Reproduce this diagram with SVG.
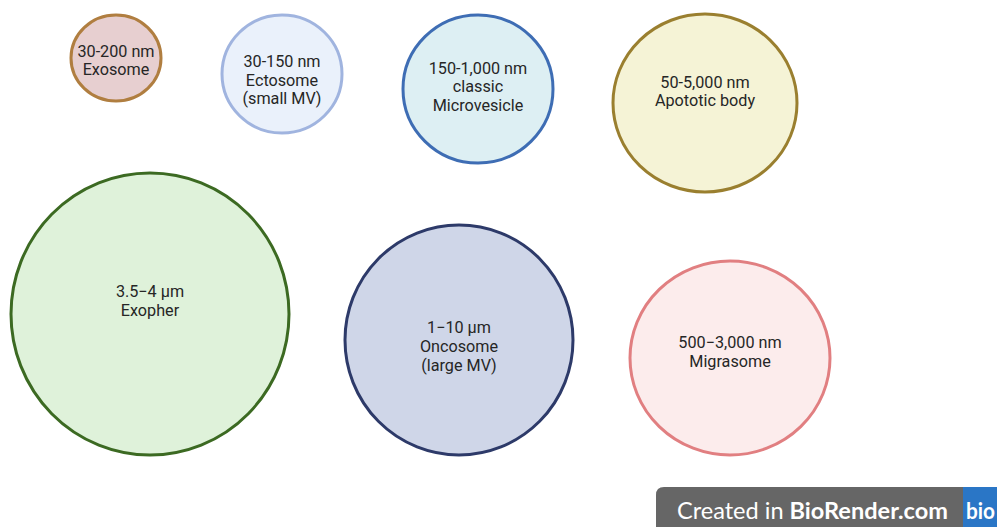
<svg xmlns="http://www.w3.org/2000/svg" width="997" height="527" viewBox="0 0 997 527">
<style>
.lbl{font-family:Roboto,"Liberation Sans",sans-serif;font-size:16.2px;fill:#262626;text-anchor:middle}
.c{stroke-width:3}
.badge{font-family:Lato,"Open Sans","Liberation Sans",sans-serif;font-size:23px;fill:#ffffff}
</style>
<rect width="997" height="527" fill="#ffffff"/>
<g id="exosome">
<ellipse class="c" cx="116" cy="58" rx="45" ry="43" fill="#e7cfd0" stroke="#b07e40"/>
<text class="lbl" x="116" y="57">30-200 nm</text>
<text class="lbl" x="116" y="75">Exosome</text>
</g>
<g id="ectosome">
<ellipse class="c" cx="282" cy="74" rx="60" ry="59" fill="#eaf1fb" stroke="#a0b4df"/>
<text class="lbl" x="282" y="67">30-150 nm</text>
<text class="lbl" x="282" y="86">Ectosome</text>
<text class="lbl" x="282" y="104">(small MV)</text>
</g>
<g id="microvesicle">
<ellipse class="c" cx="478" cy="89" rx="75" ry="74" fill="#ddeff3" stroke="#3e6db4"/>
<text class="lbl" x="478" y="74">150-1,000 nm</text>
<text class="lbl" x="478" y="92">classic</text>
<text class="lbl" x="478" y="111">Microvesicle</text>
</g>
<g id="apoptotic-body">
<ellipse class="c" cx="705" cy="103" rx="92" ry="89" fill="#f5f3d6" stroke="#9a7f2f"/>
<text class="lbl" x="705" y="88">50-5,000 nm</text>
<text class="lbl" x="705" y="106">Apototic body</text>
</g>
<g id="exopher">
<ellipse class="c" cx="150" cy="314" rx="139" ry="141" fill="#dff2da" stroke="#3c6a22"/>
<text class="lbl" x="150" y="297">3.5−4 μm</text>
<text class="lbl" x="150" y="316">Exopher</text>
</g>
<g id="oncosome">
<ellipse class="c" cx="459" cy="340" rx="114" ry="115" fill="#cfd6e8" stroke="#2d3a69"/>
<text class="lbl" x="459" y="333">1−10 μm</text>
<text class="lbl" x="459" y="352">Oncosome</text>
<text class="lbl" x="459" y="371">(large MV)</text>
</g>
<g id="migrasome">
<ellipse class="c" cx="730" cy="358" rx="100" ry="97" fill="#fcecec" stroke="#e17f81"/>
<text class="lbl" x="730" y="348">500−3,000 nm</text>
<text class="lbl" x="730" y="367">Migrasome</text>
</g>
<g id="connectors"></g>
<g id="biorender-badge">
<path d="M656,527 V495 Q656,487 664,487 H997 V527 Z" fill="#666666"/>
<rect x="963" y="487" width="34" height="40" fill="#2a76c6"/>
<text class="badge" x="677" y="519" textLength="271" lengthAdjust="spacingAndGlyphs">Created in <tspan font-weight="bold">BioRender.com</tspan></text>
<text class="badge" x="966" y="519" font-weight="bold" font-size="20" textLength="29" lengthAdjust="spacingAndGlyphs">bio</text>
</g>
</svg>
